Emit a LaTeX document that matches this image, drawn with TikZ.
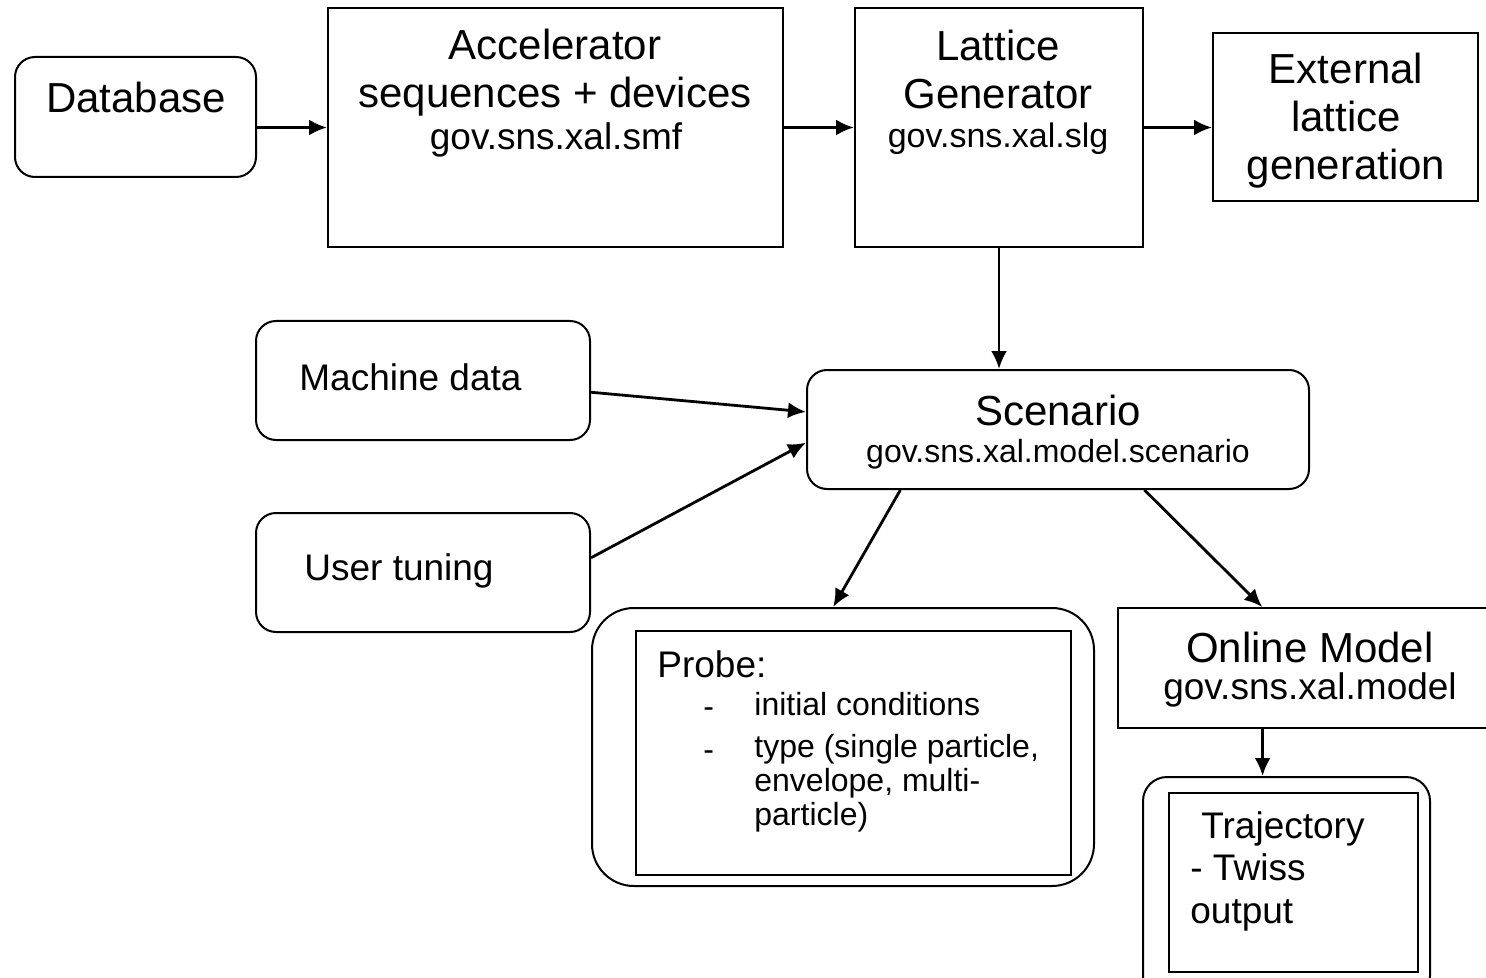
\documentclass[tikz,border=0pt]{standalone}
\usepackage{fontspec}
\setmainfont{Liberation Sans}
\usetikzlibrary{positioning,arrows.meta}

\begin{document}
\begin{tikzpicture}[x = .5pt, y = -.5pt,
    box/.style = {draw, line width = 1pt, inner sep = 0pt},
    rbox/.style = {box, rounded corners = 10pt},
    big/.style = {font = \fontsize{21}{24}\selectfont, align = center, inner sep = 0pt},
    mid/.style = {font = \fontsize{18.5}{21.5}\selectfont, align = left, inner sep = 0pt},
    small/.style = {font = \fontsize{16}{17}\selectfont, align = left, inner sep = 0pt},
    link/.style = {-{Latex[length = 9pt, width = 8pt]}, line width = 1.4pt}]
    \useasboundingbox (0,0) rectangle (1486,978);

    % boxes
    \node[rbox, minimum width = 120.5pt, minimum height = 60pt] (db) at (135.5,117) {};
    \node[box, minimum width = 227.5pt, minimum height = 119.5pt] (acc) at (555.5,127.5) {};
    \node[box, minimum width = 144pt, minimum height = 119.5pt] (lat) at (999,127.5) {};
    \node[box, minimum width = 132.5pt, minimum height = 84pt] (ext) at (1345.5,117) {};
    \node[rbox, minimum width = 251pt, minimum height = 59.5pt] (scen) at (1058,429.5) {};
    \node[rbox, minimum width = 167pt, minimum height = 59.5pt] (mach) at (423,380.5) {};
    \node[rbox, minimum width = 167pt, minimum height = 59.5pt] (user) at (423,572.5) {};
    \node[box, rounded corners = 21pt, minimum width = 251pt, minimum height = 139pt] (probe) at (843,747) {};
    \node[box, minimum width = 217.5pt, minimum height = 122pt] (probein) at (853.5,753) {};
    \node[box, minimum width = 187pt, minimum height = 60pt] (online) at (1305,668) {};
    \node[box, rounded corners = 12pt, minimum width = 143.5pt, minimum height = 111.5pt] (traj) at (1286.5,888.5) {};
    \node[box, minimum width = 124.5pt, minimum height = 89.5pt] (trajin) at (1293.5,882.5) {};

    % texts
    \node[big] (dbtext) at (136,97) {Database};
    \node[big] (acctitle) at (555,73) {Accelerator\\sequences + devices};
    \node[mid] (accsub) at (556,140) {gov.sns.xal.smf};
    \node[big] (lattitle) at (998,69) {Lattice\\Generator};
    \node[font = \fontsize{17}{20}\selectfont, inner sep = 0pt] (latsub) at (998,139) {gov.sns.xal.slg};
    \node[big] (exttext) at (1346,121) {External\\lattice\\generation};
    \node[big] (scentitle) at (1058,410) {Scenario};
    \node[small] (scensub) at (1058,454) {gov.sns.xal.model.scenario};
    \node[mid, anchor = west] (machtext) at (299,377) {Machine data};
    \node[mid, anchor = west] (usertext) at (304,571) {User tuning};
    \node[mid, anchor = west] (probetitle) at (657,664) {Probe:};
    \node[small, anchor = west] (dashA) at (703,713) {-};
    \node[small, anchor = west] (itemA) at (754,704) {initial conditions};
    \node[small, anchor = west] (dashB) at (703,756) {-};
    \node[small, anchor = west] (itemB) at (754,783.5) {type (single particle,\\envelope, multi-\\particle)};
    \node[big] (ontitle) at (1310,647) {Online Model};
    \node[mid] (onsub) at (1310,690) {gov.sns.xal.model};
    \node[mid, anchor = west] (trajtitle) at (1201,829) {Trajectory};
    \node[mid, anchor = west] (trajtext) at (1190,892.5) {- Twiss\\output};

    % arrows
    \draw[link] (db.east |- acc.west) -- (acc.west);
    \draw[link] (acc.east) -- (lat.west);
    \draw[link] (lat.east) -- (lat.east -| ext.west);
    \draw[link] (lat.south) -- (lat.south |- scen.north);
    \draw[link] (mach.-4.3) -- (scen.176.7);
    \draw[link] (user.5) -- (scen.-177.4);
    \draw[link] (scen.-159) -- (probe.94.5);
    \draw[link] (scen.-35) -- (online.125.6);
    \draw[link] (traj.102.4 |- online.south) -- (traj.102.4);
\end{tikzpicture}
\end{document}
